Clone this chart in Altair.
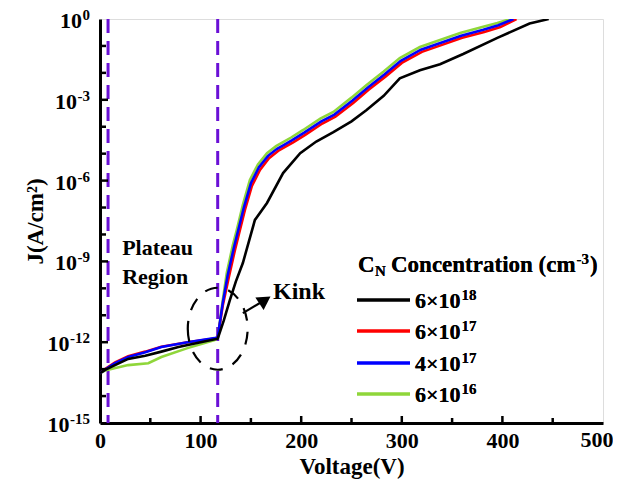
import altair as alt
import pandas as pd

# ---------------- data ----------------
series_names = ["6×10¹⁸", "6×10¹⁷", "4×10¹⁷", "6×10¹⁶"]
legend_base = ["6×10", "6×10", "4×10", "6×10"]
legend_exp = ["18", "17", "17", "16"]
series_colors = ["#000000", "#ff0000", "#0000ff", "#8fd63a"]

V_black = [0, 5, 28, 45, 61, 78, 100, 117, 123, 129, 135, 142, 154, 166, 182, 199, 215, 232, 250, 265, 282, 298, 318, 338, 361, 395, 427, 446]
logJ_black = [-13.15, -13.03, -12.62, -12.5, -12.35, -12.18, -12.0, -11.87, -11.2, -10.45, -9.75, -9.06, -7.46, -6.83, -5.72, -4.98, -4.55, -4.2, -3.8, -3.38, -2.85, -2.2, -1.9, -1.68, -1.3, -0.7, -0.17, 0]

V_red = [0, 5, 15, 28, 45, 61, 87, 114, 117, 122, 128, 134, 138, 144, 151, 159, 168, 177, 184, 192, 204, 221, 234, 252, 267, 284, 300, 320, 340, 360, 382, 398, 414]
logJ_red = [-13.15, -13.0, -12.75, -12.52, -12.35, -12.17, -12.0, -11.86, -11.83, -10.65, -9.6, -8.6, -8.0, -7.1, -6.2, -5.6, -5.17, -4.9, -4.75, -4.58, -4.3, -3.88, -3.63, -3.11, -2.63, -2.13, -1.63, -1.22, -0.96, -0.7, -0.48, -0.3, 0]

V_blue = [0, 5, 15, 28, 45, 61, 87, 114, 117, 122, 127, 133, 137, 143, 150, 158, 167, 176, 183, 191, 203, 220, 233, 251, 266, 283, 299, 319, 339, 359, 381, 396, 411]
logJ_blue = [-13.15, -13.02, -12.78, -12.55, -12.37, -12.18, -12.0, -11.85, -11.82, -10.55, -9.5, -8.5, -7.9, -7.0, -6.1, -5.5, -5.08, -4.82, -4.67, -4.5, -4.22, -3.8, -3.55, -3.03, -2.55, -2.05, -1.55, -1.14, -0.88, -0.62, -0.4, -0.23, 0]

V_green = [0, 5, 28, 48, 61, 87, 114, 117, 122, 126, 132, 136, 142, 149, 157, 166, 175, 182, 190, 202, 219, 232, 250, 265, 282, 298, 318, 338, 358, 380, 395, 408]
logJ_green = [-13.15, -13.05, -12.85, -12.78, -12.55, -12.22, -11.92, -11.85, -10.45, -9.43, -8.4, -7.83, -6.9, -5.98, -5.4, -4.98, -4.72, -4.57, -4.4, -4.12, -3.7, -3.45, -2.92, -2.45, -1.95, -1.45, -1.04, -0.78, -0.52, -0.3, -0.15, 0]

x_ticks = [0, 100, 200, 300, 400, 500]
x_minor = [50, 150, 250, 350, 450]
y_ticks = [1, 1e-3, 1e-6, 1e-9, 1e-12, 1e-15]
y_tick_exp = ["0", "-3", "-6", "-9", "-12", "-15"]
y_minor = [1e-1, 1e-2, 1e-4, 1e-5, 1e-7, 1e-8, 1e-10, 1e-11, 1e-13, 1e-14]

dashed_V = [8, 117]

FONT = "'Liberation Serif', 'Times New Roman', Times, serif"
W, H = 503, 404
EXP_FS = 15


def exp_width(s, fs=EXP_FS):
    # Times bold advance widths: digits 0.5em, hyphen 0.333em
    return sum(0.333 if c == "-" else 0.5 for c in s) * fs


# ---------------- build tables ----------------
rows = []
order = [("6×10¹⁶", V_green, logJ_green), ("6×10¹⁷", V_red, logJ_red),
         ("4×10¹⁷", V_blue, logJ_blue), ("6×10¹⁸", V_black, logJ_black)]
for name, vs, ls in order:
    for i, (v, l) in enumerate(zip(vs, ls)):
        rows.append({"V": v, "J": 10.0 ** l, "series": name, "i": i})
df = pd.DataFrame(rows)

xscale = alt.Scale(domain=[0, 500], nice=False, zero=False)
yscale = alt.Scale(type="log", domain=[1e-15, 1], nice=False)

last_x = x_ticks[-1]
xaxis = alt.Axis(values=x_ticks, ticks=False, grid=False, domainColor="black", domainWidth=3,
                 labelFont=FONT, labelFontSize=22, labelFontWeight="bold", labelColor="black",
                 labelPadding=7, labelExpr=f"datum.value == {last_x} ? '' : datum.label",
                 title="Voltage(V)", titleFont=FONT, titleFontSize=23,
                 titleFontWeight="bold", titleColor="black", titlePadding=4, labelFlush=False)
yaxis = alt.Axis(values=y_ticks, ticks=False, grid=False, labels=False, domainColor="black",
                 domainWidth=3, title="J(A/cm²)", titleFont=FONT, titleFontSize=23,
                 titleFontWeight="bold", titleColor="black", titlePadding=53)

X = alt.X("V:Q", scale=xscale, axis=xaxis)
Y = alt.Y("J:Q", scale=yscale, axis=yaxis)

lines = alt.Chart(df).mark_line(strokeWidth=2.6, clip=True).encode(
    x=X, y=Y,
    color=alt.Color("series:N", scale=alt.Scale(domain=series_names, range=series_colors), legend=None),
    detail="series:N", order="i:Q",
)

vdf = pd.DataFrame({"V": dashed_V})
vlines = alt.Chart(vdf).mark_rule(color="#6a10d6", strokeWidth=3, strokeDash=[14, 8]).encode(
    x=X, y=alt.value(0), y2=alt.value(H))

# inward ticks
xt = pd.DataFrame({"V": x_ticks[1:-1]})
xm = pd.DataFrame({"V": x_minor})
yt = pd.DataFrame({"J": y_ticks[1:-1]})
ym = pd.DataFrame({"J": y_minor})
tick_x = alt.Chart(xt).mark_rule(color="black", strokeWidth=2.5).encode(x=X, y=alt.value(H), y2=alt.value(H - 7))
tick_xm = alt.Chart(xm).mark_rule(color="black", strokeWidth=2.5).encode(x=X, y=alt.value(H), y2=alt.value(H - 5))
tick_y = alt.Chart(yt).mark_rule(color="black", strokeWidth=2.5).encode(y=Y, x=alt.value(0), x2=alt.value(8))
tick_ym = alt.Chart(ym).mark_rule(color="black", strokeWidth=2.5).encode(y=Y, x=alt.value(0), x2=alt.value(6))

# last x label drawn separately so it stays inside the page
xlast = pd.DataFrame({"V": [last_x], "t": [str(last_x)]})
xlast_text = alt.Chart(xlast).mark_text(font=FONT, fontSize=22, fontWeight="bold", align="center",
                                        baseline="top", dx=-6, color="black").encode(
    x=X, y=alt.value(H + 7), text="t:N")

# y tick labels: "10" + raised exponent, right-aligned as a whole
ylab = pd.DataFrame({"J": y_ticks, "e": y_tick_exp})
ylab["xe"] = -10
ylab["xb"] = [-10 - exp_width(e) - 0.5 for e in y_tick_exp]
ylab_base = alt.Chart(ylab).mark_text(font=FONT, fontSize=22, fontWeight="bold", align="right",
                                      baseline="middle", dy=2, color="black", text="10").encode(
    x=alt.X("xb:Q", scale=None), y=Y)
ylab_exp = alt.Chart(ylab).mark_text(font=FONT, fontSize=EXP_FS, fontWeight="bold", align="right",
                                     baseline="middle", dy=-4, color="black").encode(
    x=alt.X("xe:Q", scale=None), y=Y, text="e:N")

# annotations
ann = pd.DataFrame({"V": [22, 22], "J": [10 ** -8.5, 10 ** -9.58], "t": ["Plateau", "Region"]})
ann_text = alt.Chart(ann).mark_text(font=FONT, fontSize=22, fontWeight="bold", align="left",
                                    baseline="middle", color="black").encode(x=X, y=Y, text="t:N")
kink = pd.DataFrame({"V": [172], "J": [10 ** -10.14], "t": ["Kink"]})
kink_text = alt.Chart(kink).mark_text(font=FONT, fontSize=24, fontWeight="bold", align="left",
                                      baseline="middle", color="black").encode(x=X, y=Y, text="t:N")

ell = pd.DataFrame({"V": [117], "J": [10 ** -11.5]})
ellipse = alt.Chart(ell).mark_point(
    shape="M -0.73 0 A 0.73 1 0 1 0 0.73 0 A 0.73 1 0 1 0 -0.73 0",
    size=6724, filled=False, color="black", strokeWidth=2.2, strokeDash=[13, 11], opacity=1
).encode(x=X, y=Y)

arr = pd.DataFrame({"V": [142], "J": [10 ** -10.92], "V2": [161], "J2": [10 ** -10.5]})
arrow_line = alt.Chart(arr).mark_rule(color="black", strokeWidth=2.2).encode(
    x=X, y=Y, x2="V2:Q", y2="J2:Q")
head = pd.DataFrame({"V": [164], "J": [10 ** -10.44]})
arrow_head = alt.Chart(head).mark_point(shape="triangle-up", filled=True, color="black",
                                        size=230, angle=57, opacity=1).encode(x=X, y=Y)

# manual legend
leg_rows = [281, 312, 344, 375]
LX0, LX1, LT = 257, 310, 315
base_w = 2.07 * 22 + 1
legend_layers = []
for base, ex, col, yy in zip(legend_base, legend_exp, series_colors, leg_rows):
    legend_layers.append(alt.Chart(vdf).mark_rule(color=col, strokeWidth=3).encode(
        x=alt.value(LX0), x2=alt.value(LX1), y=alt.value(yy)))
    legend_layers.append(alt.Chart(vdf).mark_text(font=FONT, fontSize=22, fontWeight="bold",
                                                   align="left", baseline="middle", color="black",
                                                   text=base).encode(x=alt.value(LT), y=alt.value(yy + 1)))
    legend_layers.append(alt.Chart(vdf).mark_text(font=FONT, fontSize=EXP_FS, fontWeight="bold",
                                                   align="left", baseline="middle", color="black",
                                                   text=ex).encode(x=alt.value(LT + base_w), y=alt.value(yy - 5)))

TY = 246
TFS = 23
conc_x = 291
conc_w = 8.026 * TFS + 1
legend_title = [
    alt.Chart(vdf).mark_text(font=FONT, fontSize=TFS, fontWeight="bold", align="left", baseline="middle",
                             color="black", text="C").encode(x=alt.value(258), y=alt.value(TY)),
    alt.Chart(vdf).mark_text(font=FONT, fontSize=EXP_FS, fontWeight="bold", align="left", baseline="middle",
                             color="black", text="N").encode(x=alt.value(275), y=alt.value(TY + 6)),
    alt.Chart(vdf).mark_text(font=FONT, fontSize=TFS, fontWeight="bold", align="left", baseline="middle",
                             color="black", text="Concentration (cm").encode(x=alt.value(conc_x), y=alt.value(TY)),
    alt.Chart(vdf).mark_text(font=FONT, fontSize=EXP_FS, fontWeight="bold", align="left", baseline="middle",
                             color="black", text="-3").encode(x=alt.value(conc_x + conc_w), y=alt.value(TY - 6)),
    alt.Chart(vdf).mark_text(font=FONT, fontSize=TFS, fontWeight="bold", align="left", baseline="middle",
                             color="black", text=")").encode(x=alt.value(conc_x + conc_w + exp_width("-3") + 1),
                                                            y=alt.value(TY)),
]

chart = alt.layer(
    vlines, lines, tick_x, tick_xm, tick_y, tick_ym, xlast_text, ylab_base, ylab_exp, ann_text,
    kink_text, ellipse, arrow_line, arrow_head, *legend_layers, *legend_title
).properties(
    width=W, height=H, autosize=alt.AutoSizeParams(type="none"),
    padding={"left": 92, "top": 11, "right": 10, "bottom": 60},
).configure_view(stroke="black", strokeWidth=2.5).configure(background="white")

chart.save("out.html", embed_options={"renderer": "svg", "actions": False})
